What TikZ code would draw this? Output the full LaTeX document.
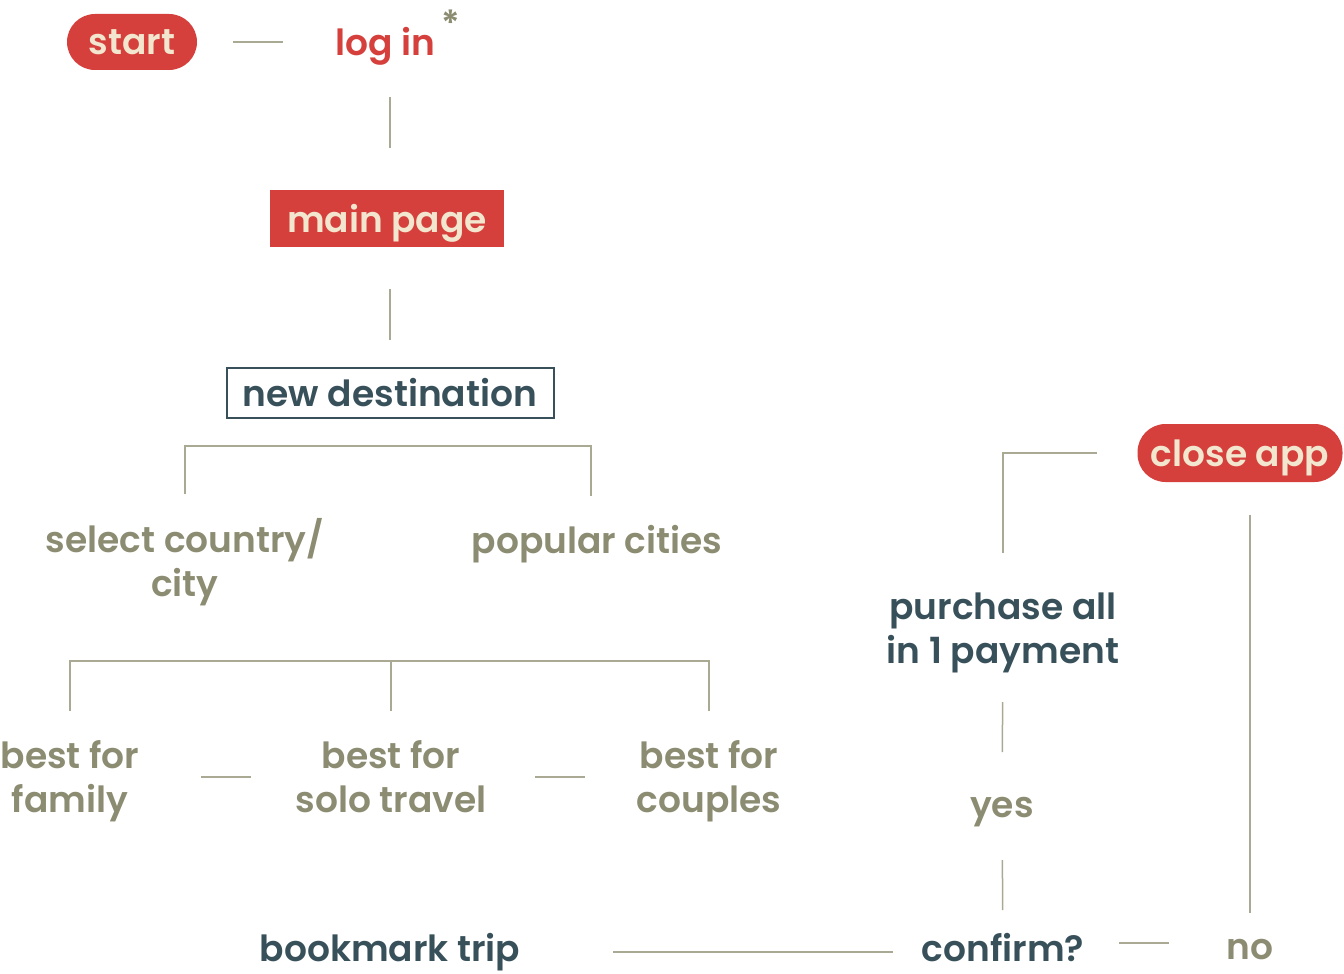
\documentclass[tikz,border=0pt]{standalone}
\usepackage{fontspec}
\setmainfont{Poppins}[BoldFont = {Poppins SemiBold}]
\usepackage{tikz}
\usetikzlibrary{shapes.misc}

\definecolor{appred}{HTML}{D5403C}
\definecolor{cream}{HTML}{F2E6CF}
\definecolor{slate}{HTML}{37505A}
\definecolor{olive}{HTML}{8B8C71}
\definecolor{wire}{HTML}{A9A994}

\tikzset{
  txt/.style = {inner sep = 0, align = center,
    font = \fontsize{36}{44}\selectfont\bfseries},
  redtxt/.style = {txt, text = appred},
  olivetxt/.style = {txt, text = olive},
  slatetxt/.style = {txt, text = slate},
  pill/.style = {txt, fill = appred, text = cream, text depth = 0pt, rounded corners = 28pt, minimum height = 56pt},
  redbox/.style = {txt, fill = appred, text = cream, text depth = 0pt},
  outlinebox/.style = {txt, draw = slate, line width = 2pt, text = slate},
  link/.style = {draw = wire, line width = 1.5pt}
}

\begin{document}
\begin{tikzpicture}[x = 1pt, y = -1pt]
  \useasboundingbox (0, 0) rectangle (1344, 974);

  % top column
  \node[pill, minimum width = 130pt] (start) at (132, 42) {start};
  \node[redtxt] (login) at (385, 46) {log in};
  \node[olivetxt] (star) at (451, 23) {*};
  \node[redbox, minimum width = 234pt, minimum height = 57pt] (mainpage) at (387, 218) {main page};
  \node[outlinebox, minimum width = 327pt, minimum height = 50pt] (newdest) at (390, 393) {new destination};

  % choices
  \node[olivetxt] (select) at (185, 562) {select country/\\city};
  \node[olivetxt] (popular) at (597, 544) {popular cities};
  \node[olivetxt] (family) at (70, 781) {best for\\family};
  \node[olivetxt] (solo) at (391, 777) {best for\\solo travel};
  \node[olivetxt] (couples) at (709, 781) {best for\\couples};

  % bottom and right side
  \node[slatetxt] (bookmark) at (390, 952) {bookmark trip};
  \node[slatetxt] (confirm) at (1003, 948) {confirm?};
  \node[olivetxt] (no) at (1250, 950) {no};
  \node[olivetxt] (yes) at (1002, 812) {yes};
  \node[slatetxt] (purchase) at (1003, 633) {purchase all\\in 1 payment};
  \node[pill, minimum width = 205pt, minimum height = 58pt] (close) at (1240, 453) {close app};

  \coordinate (split1) at (390, 446);
  \coordinate (split2) at (391, 661);

  \draw[link, shorten <= 101pt, shorten >= 102pt] (start.center) -- (login.center |- start.center);
  \draw[link, shorten <= 51pt, shorten >= 70pt] (login.center -| newdest.center) -- (mainpage.center -| newdest.center);
  \draw[link, shorten <= 71pt, shorten >= 53pt] (mainpage.center -| newdest.center) -- (newdest.center);
  \draw[link, shorten <= 68pt, shorten >= 48pt] (select.center) |- (split1) -| ([xshift = -6pt]popular.center);
  \draw[link, shorten <= 70pt, shorten >= 70pt] (family.center) |- (split2) -| (couples.center);
  \draw[link, shorten >= 66pt] (split2) -- (solo.center);
  \draw[link, shorten <= 131pt, shorten >= 140pt] ([yshift = 4pt]family.center) -- ([yshift = 4pt]family.center -| solo.center);
  \draw[link, shorten <= 144pt, shorten >= 124pt] ([yshift = 4pt]couples.center -| solo.center) -- ([yshift = 4pt]couples.center);
  \draw[link, shorten <= 223pt, shorten >= 110pt] (bookmark.center) -- (confirm.center |- bookmark.center);
  \draw[link, shorten <= 116pt, shorten >= 81pt] ([yshift = 5pt]confirm.center) -- ([yshift = 5pt]confirm.center -| no.center);
  \draw[link, shorten <= 38pt, shorten >= 48pt] (confirm.center) -- (yes.center);
  \draw[link, shorten <= 60pt, shorten >= 69pt] (yes.center) -- (purchase.center);
  \draw[link, shorten <= 80pt, shorten >= 143pt] (purchase.center) |- (close.center);
  \draw[link, shorten <= 37pt, shorten >= 62pt] (no.center) -- (no.center |- close.center);
\end{tikzpicture}
\end{document}
